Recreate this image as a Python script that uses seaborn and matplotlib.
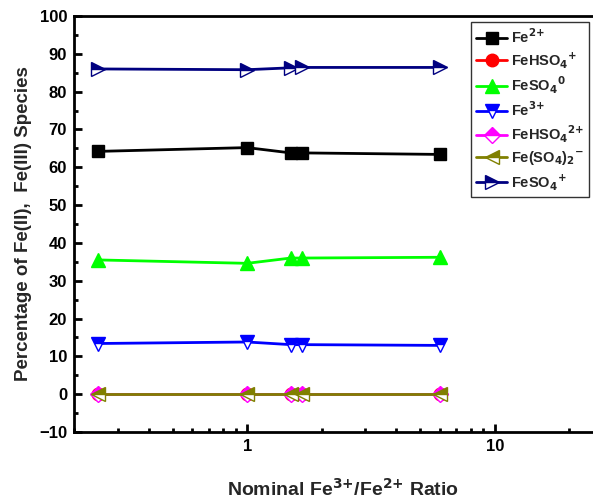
import matplotlib
matplotlib.use("Agg")
import matplotlib.pyplot as plt
from matplotlib.ticker import MultipleLocator, LogLocator, NullFormatter, FixedLocator, FixedFormatter
import seaborn as sns
import pandas as pd

sns.set_style("ticks")
plt.rcParams["font.family"] = ["Liberation Sans", "DejaVu Sans"]
plt.rcParams["font.weight"] = "bold"
plt.rcParams["mathtext.default"] = "bf"

ratio = [0.25, 1.0, 1.5, 1.67, 6.0]

fe2 = [64.2, 65.2, 63.8, 63.8, 63.4]
fehso4_p = [0.0, 0.0, 0.0, 0.0, 0.0]
feso4_0 = [35.5, 34.6, 36.0, 36.0, 36.2]
fe3 = [13.4, 13.8, 13.1, 13.1, 12.9]
fehso4_2p = [0.1, 0.1, 0.1, 0.1, 0.1]
feso4_2m = [0.0, 0.0, 0.0, 0.0, 0.0]
feso4_p = [86.0, 85.8, 86.3, 86.4, 86.4]

labels = ["Fe$^{2{+}}$", "FeHSO$_4$$^{+}$", "FeSO$_4$$^{0}$", "Fe$^{3{+}}$",
          "FeHSO$_4$$^{2{+}}$", "Fe(SO$_4$)$_2$$^{-}$", "FeSO$_4$$^{+}$"]
series = [fe2, fehso4_p, feso4_0, fe3, fehso4_2p, feso4_2m, feso4_p]
colors = ["black", "red", "#00ff00", "blue", "magenta", "#808000", "#000080"]
markers = ["s", "o", "^", "v", "D", "<", ">"]
fills = ["full", "full", "full", "top", "top", "top", "top"]
msizes = [9, 9, 10, 10, 8, 10, 10]

fig = plt.figure(figsize=(5.93, 4.99), dpi=100)
ax = fig.add_axes([74 / 593, 67 / 499, (613 - 74) / 593, (432 - 16) / 499])

for lab, vals, c, m, fs, ms in zip(labels, series, colors, markers, fills, msizes):
    df = pd.DataFrame({"ratio": ratio, "pct": vals})
    sns.lineplot(data=df, x="ratio", y="pct", ax=ax, color=c, marker=m,
                 fillstyle=fs, markerfacecoloralt="white", markeredgecolor=c,
                 markersize=ms, linewidth=2, label=lab, markeredgewidth=1)

ax.set_xscale("log")
ax.set_xlim(0.2, 30)
ax.set_ylim(-10, 100)
ax.yaxis.set_major_locator(MultipleLocator(10))
ax.yaxis.set_minor_locator(MultipleLocator(5))
ax.xaxis.set_major_locator(FixedLocator([1, 10]))
ax.xaxis.set_major_formatter(FixedFormatter(["1", "10"]))
ax.xaxis.set_minor_locator(LogLocator(base=10, subs=range(2, 10)))
ax.xaxis.set_minor_formatter(NullFormatter())

for s in ax.spines.values():
    s.set_linewidth(2)
    s.set_color("black")
ax.tick_params(which="both", direction="in", width=2, colors="black")
ax.tick_params(which="major", length=6, labelsize=12, pad=5)
ax.tick_params(which="minor", length=3)
for t in ax.get_xticklabels() + ax.get_yticklabels():
    t.set_fontweight("bold")

ax.set_xlabel("Nominal Fe$^{3{+}}$/Fe$^{2{+}}$ Ratio", fontsize=14, fontweight="bold", labelpad=17)
ax.set_ylabel("Percentage of Fe(II),  Fe(III) Species", fontsize=13.5, fontweight="bold", labelpad=5)

leg = ax.legend(loc="upper right", bbox_to_anchor=(589 / 593, 1 - 22 / 499),
                bbox_transform=fig.transFigure,
                fontsize=10.5, frameon=True, fancybox=False, edgecolor="black",
                handlelength=2.1, labelspacing=0.3, borderpad=0.35, handletextpad=0.25,
                borderaxespad=0)
leg.get_frame().set_linewidth(1)
for t in leg.get_texts():
    t.set_fontweight("bold")

fig.savefig("out.png", dpi=100)
